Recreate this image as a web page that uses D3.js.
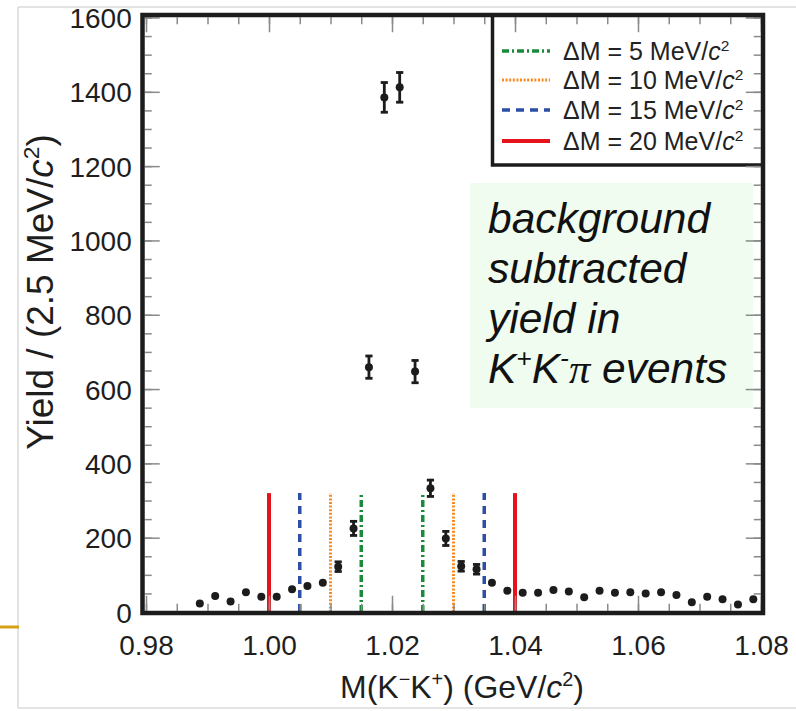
<!DOCTYPE html>
<html><head><meta charset="utf-8">
<script src="https://cdn.jsdelivr.net/npm/d3@7"></script>
<style>body{margin:0;background:#fff}</style>
</head><body>
<svg id="c" width="796" height="711" xmlns="http://www.w3.org/2000/svg"></svg>
<script>
// ---- data ----
const binCenters = [0.98875,0.99125,0.99375,0.99625,0.99875,1.00125,1.00375,1.00625,1.00875,1.01125,
  1.01375,1.01625,1.01875,1.02125,1.02375,1.02625,1.02875,1.03125,1.03375,1.03625,
  1.03875,1.04125,1.04375,1.04625,1.04875,1.05125,1.05375,1.05625,1.05875,1.06125,
  1.06375,1.06625,1.06875,1.07125,1.07375,1.07625,1.07875];
const yields = [23,43,28,53,41,41,61,70,79,122,
  225,659,1385,1412,647,333,198,123,115,79,
  57,52,52,59,55,40,57,52,53,50,
  53,46,26,41,34,20,34];
const yieldErrors = [6,7,6,7,7,7,8,8,9,13,
  19,30,40,40,30,22,19,13,13,9,
  8,7,7,8,7,7,8,7,7,7,
  7,7,6,7,6,5,6];
const xTickValues = [0.98,1.00,1.02,1.04,1.06,1.08];
const yTickValues = [0,200,400,600,800,1000,1200,1400,1600];
const deltaM = [5,10,15,20];
const cutLow = [1.015,1.010,1.005,1.000];
const cutHigh = [1.025,1.030,1.035,1.040];
const cutTop = 320;

// ---- styles ----
const cutColors = ['#1b8a3b','#f98a1f','#2c4ea5','#e5131c'];
const cutDash = ['7,3,2,3','2,1.6','8,6',null];
const cutWidth = [3.5,3,3.5,4];
const FONT = "'Liberation Sans', Arial, Helvetica, sans-serif";
const INK = '#1c1c1c';

const svg = d3.select('#c');
const x = d3.scaleLinear().domain([0.98,1.08]).range([146,761]);
const y = d3.scaleLinear().domain([0,1600]).range([612,17.5]);

// page decorations
svg.append('line').attr('x1',18).attr('x2',796).attr('y1',7).attr('y2',7).attr('stroke','#c8c8c8').attr('stroke-width',1);
svg.append('line').attr('x1',18).attr('x2',18).attr('y1',7).attr('y2',708).attr('stroke','#c8c8c8').attr('stroke-width',1);
svg.append('line').attr('x1',18).attr('x2',796).attr('y1',708).attr('y2',708).attr('stroke','#c8c8c8').attr('stroke-width',1);
svg.append('line').attr('x1',0).attr('x2',19).attr('y1',627).attr('y2',627).attr('stroke','#d4a017').attr('stroke-width',3);

// annotation box
const ann = svg.append('g');
ann.append('rect').attr('x',470).attr('y',183).attr('width',283).attr('height',225).attr('fill','#effcef');
function rich(sel, parts, size){
  let shift = 0;
  parts.forEach(p=>{
    const t = sel.append('tspan').text(p.t);
    if(p.it) t.attr('font-style','italic');
    if(p.fam) t.attr('font-family',p.fam);
    if(p.sup){
      const d = -size*0.38;
      t.attr('font-size', size*0.62).attr('dy', d - shift);
      shift = d;
    } else {
      if(shift!==0){ t.attr('dy', -shift); shift = 0; }
    }
  });
}
const annLines = [[{t:'background'}],[{t:'subtracted'}],[{t:'yield in'}],
  [{t:'K'},{t:'+',sup:true},{t:'K'},{t:'-',sup:true},{t:'π',fam:"'Liberation Serif','Times New Roman',serif"},{t:' events'}]];
const annBase = [233,283,333,383];
annLines.forEach((ln,i)=>{
  const t = ann.append('text').attr('x',488).attr('y',annBase[i]).attr('font-family',FONT)
    .attr('font-style','italic').attr('font-size',42.5).attr('fill','#111');
  rich(t, ln, 42.5);
});

// cut lines
deltaM.forEach((d,i)=>{
  [cutLow[i],cutHigh[i]].forEach(v=>{
    svg.append('line').attr('x1',x(v)).attr('x2',x(v)).attr('y1',y(0)).attr('y2',y(cutTop))
      .attr('stroke',cutColors[i]).attr('stroke-width',cutWidth[i])
      .attr('stroke-dasharray',cutDash[i]);
  });
});

// data points with error bars
const pts = svg.append('g');
const R = 4;
binCenters.forEach((c,i)=>{
  const cx = x(c), v = yields[i], e = yieldErrors[i];
  const y1 = y(v+e), y2 = y(v-e);
  pts.append('line').attr('x1',cx).attr('x2',cx).attr('y1',y1).attr('y2',y2).attr('stroke',INK).attr('stroke-width',2.8);
  if((y2-y1)/2 > R+0.5){
    [y1,y2].forEach(yy=>pts.append('line').attr('x1',cx-3.6).attr('x2',cx+3.6).attr('y1',yy).attr('y2',yy).attr('stroke',INK).attr('stroke-width',2.8));
  }
  pts.append('circle').attr('cx',cx).attr('cy',y(v)).attr('r',R).attr('fill',INK);
});

// legend
const lg = svg.append('g');
lg.append('rect').attr('x',492.5).attr('y',15).attr('width',270.5).attr('height',150).attr('fill','#fff').attr('stroke',INK).attr('stroke-width',3.5);
const rowY = [51,80,110,141];
deltaM.forEach((d,i)=>{
  lg.append('line').attr('x1',502).attr('x2',550).attr('y1',rowY[i]).attr('y2',rowY[i])
    .attr('stroke',cutColors[i]).attr('stroke-width',cutWidth[i]).attr('stroke-dasharray',cutDash[i]);
  const t = lg.append('text').attr('x',563).attr('y',rowY[i]+9).attr('font-family',FONT).attr('font-size',25).attr('fill','#222');
  rich(t,[{t:'ΔM = '+d+' MeV/'},{t:'c',it:true},{t:'2',sup:true}],25);
});

// axes ticks
function styleAxis(g){
  g.select('.domain').remove();
  g.selectAll('.tick line').attr('stroke','#8a8a8a').attr('stroke-width',1.5);
  g.selectAll('.tick text').attr('fill','#1e1e1e').attr('font-family',FONT).attr('font-size',28);
}
const xMinor = x.ticks(20), yMinor = y.ticks(32);
svg.append('g').attr('transform','translate(0,610.75)').call(d3.axisBottom(x).tickValues(xMinor).tickSize(-7).tickFormat('')).call(styleAxis);
svg.append('g').attr('transform','translate(0,610.75)').call(d3.axisBottom(x).tickValues(xTickValues).tickSize(-15).tickPadding(24).tickFormat(d3.format('.2f'))).call(styleAxis);
svg.append('g').attr('transform','translate(0,17.25)').call(d3.axisTop(x).tickValues(xMinor).tickSize(-7).tickFormat('')).call(styleAxis);
svg.append('g').attr('transform','translate(0,17.25)').call(d3.axisTop(x).tickValues(xTickValues).tickSize(-15).tickFormat('')).call(styleAxis);
svg.append('g').attr('transform','translate(144.75,0)').call(d3.axisLeft(y).tickValues(yMinor).tickSize(-7).tickFormat('')).call(styleAxis);
const yl = svg.append('g').attr('transform','translate(144.75,0)').call(d3.axisLeft(y).tickValues(yTickValues).tickSize(-15).tickPadding(13).tickFormat(d3.format('d'))).call(styleAxis);
yl.selectAll('.tick text').attr('dy','0.36em');
svg.append('g').attr('transform','translate(760.75,0)').call(d3.axisRight(y).tickValues(yMinor).tickSize(-7).tickFormat('')).call(styleAxis);
svg.append('g').attr('transform','translate(760.75,0)').call(d3.axisRight(y).tickValues(yTickValues).tickSize(-15).tickFormat('')).call(styleAxis);

// frame
svg.append('rect').attr('x',142.5).attr('y',15).attr('width',620.5).attr('height',598)
  .attr('fill','none').attr('stroke',INK).attr('stroke-width',4.5);

// axis titles
const xt = svg.append('text').attr('x',462).attr('y',698).attr('text-anchor','middle')
  .attr('font-family',FONT).attr('font-size',32).attr('fill','#1e1e1e');
rich(xt,[{t:'M(K'},{t:'−',sup:true},{t:'K'},{t:'+',sup:true},{t:') (GeV/'},{t:'c',it:true},{t:'2',sup:true},{t:')'}],32);
const yt = svg.append('text').attr('transform','translate(53,292) rotate(-90)').attr('text-anchor','middle')
  .attr('font-family',FONT).attr('font-size',37).attr('fill','#1e1e1e');
rich(yt,[{t:'Yield / (2.5 MeV/'},{t:'c',it:true},{t:'2',sup:true},{t:')'}],37);
</script>
</body></html>
